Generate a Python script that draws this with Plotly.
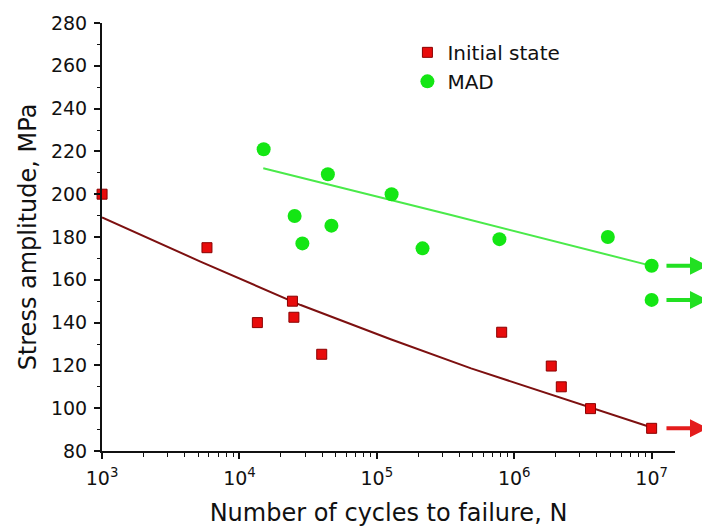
import numpy as np
import plotly.graph_objects as go

# ---- data ----
init_N = [1.0e3, 5.8e3, 1.35e4, 2.43e4, 2.49e4, 3.97e4, 8.1e5, 1.86e6, 2.2e6, 3.59e6, 1.0e7]
init_S = [200, 175, 140, 150, 142.5, 125.2, 135.5, 119.7, 110, 99.8, 90.6]

mad_N = [1.5e4, 4.4e4, 2.52e4, 4.67e4, 2.87e4, 1.28e5, 2.15e5, 7.8e5, 4.8e6, 1.0e7, 1.0e7]
mad_S = [221, 209.3, 189.8, 185.3, 177, 200, 174.7, 179, 180, 166.6, 150.6]

fit_init_N = [1.0e3, 5.2e3, 2.79e4, 1.26e5, 4.85e5, 3.65e6, 1.0e7]
fit_init_S = [189.2, 168.5, 148.2, 132.2, 118.6, 100.0, 91.0]

fit_mad_N = [1.49e4, 3.47e5, 1.0e7]
fit_mad_S = [212.1, 190.3, 166.5]

runout_N = 1.0e7
runout_init_S = [90.6]
runout_mad_S = [166.6, 150.6]

x_ticks = [1e3, 1e4, 1e5, 1e6, 1e7]
x_tick_labels = ["10<sup>3</sup>", "10<sup>4</sup>", "10<sup>5</sup>",
                 "10<sup>6</sup>", "10<sup>7</sup>"]

FONT = "DejaVu Sans"
TXT = "#111111"
RED = "#e80c0c"
GREEN = "#14e614"

fig = go.Figure()

fig.add_trace(go.Scatter(
    x=fit_init_N, y=fit_init_S, mode="lines",
    line=dict(color="#7d1010", width=2), showlegend=False, hoverinfo="skip"))
fig.add_trace(go.Scatter(
    x=fit_mad_N, y=fit_mad_S, mode="lines",
    line=dict(color="#4aea4a", width=2), showlegend=False, hoverinfo="skip"))

fig.add_trace(go.Scatter(
    x=init_N, y=init_S, mode="markers", name="Initial state",
    marker=dict(symbol="square", size=10, color=RED,
                line=dict(color="#8a0000", width=1)),
    cliponaxis=False))
fig.add_trace(go.Scatter(
    x=mad_N, y=mad_S, mode="markers", name="MAD",
    marker=dict(symbol="circle", size=14, color=GREEN, line=dict(width=0)),
    cliponaxis=False))

# run-out arrows
x0 = np.log10(runout_N)
for s_list, col in ((runout_init_S, "#e41c1c"), (runout_mad_S, "#22e022")):
    for s in s_list:
        fig.add_annotation(
            x=x0 + 0.41, y=s, ax=x0 + 0.097, ay=s,
            xref="x", yref="y", axref="x", ayref="y",
            text="", showarrow=True, arrowhead=2, arrowsize=0.9,
            arrowwidth=4, arrowcolor=col)

fig.update_layout(
    width=702, height=520,
    margin=dict(l=94, r=35, t=15, b=77, autoexpand=False),
    paper_bgcolor="white", plot_bgcolor="white",
    font=dict(family=FONT, color=TXT),
    showlegend=True,
    legend=dict(x=0.533, y=0.977, xanchor="left", yanchor="top",
                font=dict(family=FONT, size=20, color=TXT),
                bgcolor="rgba(0,0,0,0)", itemsizing="trace",
                tracegroupgap=0),
    xaxis=dict(
        type="log", range=[2.9995, 7.17], tickvals=x_ticks, ticktext=x_tick_labels,
        automargin=False, ticklabelstandoff=3,
        showline=True, linecolor="#111", linewidth=2,
        ticks="outside", ticklen=6, tickwidth=1.5, tickcolor="#111",
        showgrid=False, zeroline=False,
        tickfont=dict(family=FONT, size=19, color=TXT),
        minor=dict(ticks="outside", ticklen=4, tickwidth=1.2, tickcolor="#111",
                   dtick="D1", showgrid=False),
        title=dict(text="Number of cycles to failure, N",
                   font=dict(family=FONT, size=24, color=TXT),
                   standoff=16)),
    yaxis=dict(
        range=[80, 280], dtick=20, automargin=False, ticklabelstandoff=3,
        showline=True, linecolor="#111", linewidth=2,
        ticks="outside", ticklen=6, tickwidth=1.5, tickcolor="#111",
        showgrid=False, zeroline=False,
        tickfont=dict(family=FONT, size=19, color=TXT),
        minor=dict(ticks="outside", ticklen=3, tickwidth=1.2, tickcolor="#111",
                   dtick=10, showgrid=False),
        title=dict(text="Stress amplitude, MPa",
                   font=dict(family=FONT, size=24, color=TXT),
                   standoff=8)),
)

fig.write_html("out.html")
